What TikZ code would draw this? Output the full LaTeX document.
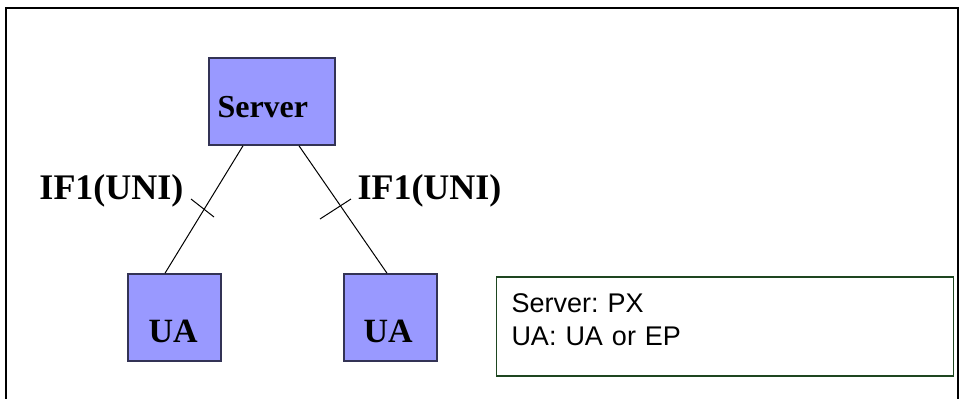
\documentclass[tikz,border=0pt]{standalone}
\usepackage{fontspec}
\setmainfont{Liberation Serif}
\newfontfamily\keyfont{Liberation Sans}
\usepackage{tikz}
\usepackage{xcolor}
\definecolor{boxblue}{HTML}{9999FF}
\definecolor{boxedge}{HTML}{333355}
\definecolor{keygreen}{HTML}{1E4620}
\frenchspacing

\begin{document}
\begin{tikzpicture}[x=0.5pt,y=-0.5pt,line width=0.5pt,
    entity/.style={rectangle, draw=boxedge, fill=boxblue, line width=0.8pt, inner sep=0pt},
    tag/.style={inner sep=0pt, anchor=base west, font=\fontsize{17}{20}\selectfont\bfseries},
    key/.style={rectangle, draw=keygreen, line width=0.8pt, inner xsep=7.5pt, inner ysep=0pt,
      minimum width=228.5pt, minimum height=49.5pt, text width=213.5pt, align=left,
      text height=10pt, text depth=24.5pt, font=\keyfont\fontsize{13.5}{16.5}\selectfont}]
      \useasboundingbox (0,0) rectangle (960,398);
      \draw[line width=0.9pt] (6,8) rectangle (958,420); % outer frame
      \node[entity, minimum width=63pt, minimum height=43.5pt] at (272,101.5) (Srv) {};
      \node[entity, minimum width=46.5pt, minimum height=43.5pt] at (174.5,317.5) (UA1) {};
      \node[entity, minimum width=46.5pt, minimum height=43.5pt] at (390.5,317.5) (UA2) {};
      \node[tag, font=\fontsize{16}{20}\selectfont\bfseries] at (217,117) (SrvText) {Server};
      \node[tag] at (148,342) (UA1Text) {UA};
      \node[tag] at (363,342) (UA2Text) {UA};
      \node[tag, font=\fontsize{18}{20}\selectfont\bfseries] at (39,199) (IFL) {IF1(UNI)};
      \node[tag, font=\fontsize{18}{20}\selectfont\bfseries] at (357,199) (IFR) {IF1(UNI)};
      \draw ([xshift=-14.5pt]Srv.south) -- ([xshift=-4.75pt]UA1.north);
      \draw ([xshift=13.5pt]Srv.south) -- ([xshift=-1.75pt]UA2.north);
      \draw (191,199) -- (214,217); % interface ticks
      \draw (351,199) -- (320,219);
      \node[key] at (725,326.5) (Key) {Server: PX\\UA: UA or EP};
  \end{tikzpicture}
\end{document}
